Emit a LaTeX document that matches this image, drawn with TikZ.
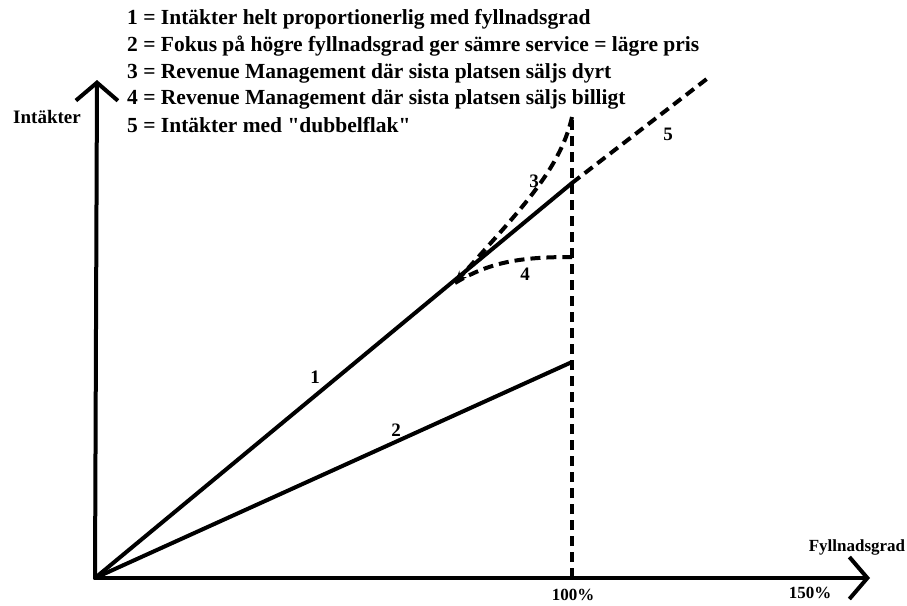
\documentclass[tikz,border=0pt]{standalone}
\usepackage{fontspec}
\setmainfont{Liberation Serif}[Ligatures=TeXOff]
\usetikzlibrary{arrows.meta}
\begin{document}
\begin{tikzpicture}[x=1pt,y=-1pt,
  axis/.style={line width=4pt,-{Straight Barb[length=18pt,width=42pt,line width=4pt]}},
  solidline/.style={line width=4pt,line cap=round},
  dashline/.style={line width=4pt,dash pattern=on 10pt off 6pt},
  lbl/.style={font=\bfseries\fontsize{19}{22}\selectfont,inner sep=0pt},
  small/.style={font=\bfseries\fontsize{17}{20}\selectfont,inner sep=0pt},
  legend/.style={font=\bfseries\fontsize{21.5}{24}\selectfont,anchor=west,inner sep=0pt}]
\useasboundingbox (0,0) rectangle (907,605);
% axes
\coordinate (O) at (95,578);
\coordinate (ytop) at (97,80);
\coordinate (xend) at (870,578);
\draw[axis] (O) -- (ytop);
\draw[axis] (O) -- (xend);
% 100 % mark
\coordinate (p100) at (572,578);
\coordinate (ptop) at (572,117);
\draw[dashline] (p100) -- (ptop);
% revenue lines
\coordinate (a1) at (572,183);
\coordinate (a2) at (572,362);
\coordinate (br) at (455,283);
\coordinate (a5) at (708,78);
\coordinate (a4) at (572,257);
\draw[solidline] (O) -- (a1);
\draw[solidline] (O) -- (a2);
\draw[dashline] (a1) -- (a5);
\draw[dashline,-{Stealth[length=12pt,width=10pt]}] (ptop) .. controls (560,170) and (520,210) .. (br);
\draw[dashline] (br) .. controls (490,262) and (520,257) .. (a4);
% curve labels
\node[lbl] (n1) at (315,377) {1};
\node[lbl] (n2) at (396,430) {2};
\node[lbl] (n3) at (534,181) {3};
\node[lbl] (n4) at (525,274) {4};
\node[lbl] (n5) at (668,134) {5};
% axis labels
\node[lbl] (yl) at (47,117) {Intäkter};
\node[small] (xl) at (857,547) {Fyllnadsgrad};
\node[small] (t100) at (573,595) {100\%};
\node[small] (t150) at (810,593) {150\%};
% legend
\node[legend] (l1) at (127,19) {1 = Intäkter helt proportionerlig med fyllnadsgrad};
\node[legend] (l2) at (127,46) {2 = Fokus på högre fyllnadsgrad ger sämre service = lägre pris};
\node[legend] (l3) at (127,73) {3 = Revenue Management där sista platsen säljs dyrt};
\node[legend] (l4) at (127,99) {4 = Revenue Management där sista platsen säljs billigt};
\node[legend] (l5) at (127,125) {5 = Intäkter med "dubbelflak"};
\end{tikzpicture}
\end{document}
